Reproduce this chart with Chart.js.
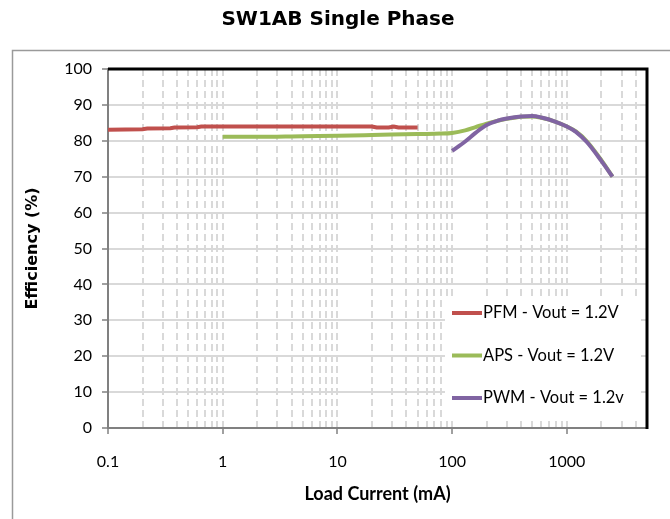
<!DOCTYPE html>
<html>
<head>
<meta charset="utf-8">
<script src="https://cdn.jsdelivr.net/npm/chart.js@4/dist/chart.umd.min.js"></script>
<style>
  html, body { margin: 0; padding: 0; background: #fff; }
  #wrap { width: 670px; height: 519px; }
</style>
</head>
<body>
<div id="wrap"><canvas id="c" width="670" height="519"></canvas></div>
<script>
const TITLE = 'SW1AB Single Phase';
const X_TITLE = 'Load Current (mA)';
const Y_TITLE = 'Efficiency (%)';

// PFM - Vout = 1.2V
const PFM_X = [0.1, 0.2, 0.22, 0.35, 0.38, 0.6, 0.65, 1, 5, 20, 22, 28, 31, 34, 50];
const PFM_Y = [83.1, 83.2, 83.4, 83.5, 83.7, 83.8, 84.0, 84.0, 84.0, 84.0, 83.7, 83.7, 84.0, 83.7, 83.7];

// APS - Vout = 1.2V
const APS_X = [1, 2, 5, 10, 20, 50, 80, 100, 130, 160, 200, 250, 300, 400, 500, 600, 800, 1000, 1200, 1500, 2000, 2500];
const APS_Y = [81.1, 81.1, 81.3, 81.4, 81.6, 81.9, 82.0, 82.2, 82.9, 83.8, 84.8, 85.6, 86.1, 86.7, 86.8, 86.4, 85.3, 84.0, 82.6, 79.8, 74.6, 70.0];

// PWM - Vout = 1.2v
const PWM_X = [100, 130, 160, 200, 250, 300, 400, 500, 600, 800, 1000, 1200, 1500, 2000, 2500];
const PWM_Y = [77.2, 79.8, 82.2, 84.4, 85.6, 86.2, 86.8, 86.9, 86.5, 85.3, 84.0, 82.5, 79.6, 74.4, 70.0];

const X_LABELS = [0.1, 1, 10, 100, 1000];
const X_GRID = X_LABELS.flatMap(d => [1, 2, 3, 4, 5, 6, 7, 8, 9].map(m => +(d * m).toPrecision(3)))
  .filter(v => v <= 5000);
const Y_TICKS = [0, 10, 20, 30, 40, 50, 60, 70, 80, 90, 100];

const pts = (xs, ys) => xs.map((x, k) => ({ x, y: ys[k] }));

const decor = {
  id: 'decor',
  beforeDraw(chart) {
    const ctx = chart.ctx;
    ctx.save();
    ctx.fillStyle = '#fff';
    ctx.fillRect(0, 0, chart.width, chart.height);
    // outer chart frame
    ctx.strokeStyle = '#9a9a9a';
    ctx.lineWidth = 1.5;
    ctx.strokeRect(12.5, 50.5, 700, 500);
    ctx.fillStyle = '#000';
    ctx.font = 'bold 20px "DejaVu Sans"';
    ctx.textAlign = 'center';
    ctx.textBaseline = 'middle';
    ctx.fillText(TITLE, 338, 20);
    ctx.restore();
  },
  afterDatasetsDraw(chart) {
    const ctx = chart.ctx;
    const a = chart.chartArea;
    ctx.save();
    // legend inside the plot
    ctx.fillStyle = '#fff';
    ctx.fillRect(445, 297, 196, 122);
    ctx.font = '16.5px Lato';
    ctx.textBaseline = 'middle';
    ctx.textAlign = 'left';
    chart.data.datasets.forEach((ds, k) => {
      const y = 313 + k * 42.5;
      ctx.strokeStyle = ds.borderColor;
      ctx.lineWidth = 4;
      ctx.beginPath();
      ctx.moveTo(452, y);
      ctx.lineTo(482, y);
      ctx.stroke();
      ctx.fillStyle = '#000';
      ctx.fillText(ds.label, 483, y);
    });
    // black top / right border of the plot area
    ctx.strokeStyle = '#000';
    ctx.lineWidth = 3;
    ctx.beginPath();
    ctx.moveTo(a.left, a.top);
    ctx.lineTo(a.right, a.top);
    ctx.lineTo(a.right, a.bottom + 1);
    ctx.stroke();
    ctx.restore();
  }
};

new Chart(document.getElementById('c'), {
  type: 'line',
  data: {
    datasets: [
      { label: 'PFM - Vout = 1.2V', data: pts(PFM_X, PFM_Y), borderColor: '#C0504D', order: 2, tension: 0 },
      { label: 'APS - Vout = 1.2V', data: pts(APS_X, APS_Y), borderColor: '#9BBB59', order: 1, cubicInterpolationMode: 'monotone' },
      { label: 'PWM - Vout = 1.2v', data: pts(PWM_X, PWM_Y), borderColor: '#8064A2', order: 0, cubicInterpolationMode: 'monotone' }
    ]
  },
  options: {
    responsive: false,
    animation: false,
    devicePixelRatio: 1,
    elements: {
      line: { borderWidth: 4, fill: false, borderCapStyle: 'butt' },
      point: { radius: 0, hoverRadius: 0 }
    },
    layout: { padding: { left: 14, right: 23, top: 69, bottom: 0 } },
    plugins: {
      legend: { display: false },
      title: { display: false },
      tooltip: { enabled: false }
    },
    scales: {
      x: {
        type: 'logarithmic',
        min: 0.1,
        max: 5000,
        afterBuildTicks: s => { s.ticks = X_GRID.map(v => ({ value: v })); },
        afterFit: s => { s.height = 91; },
        grid: {
          color: '#d9d9d9',
          lineWidth: 2,
          tickLength: 6,
          tickWidth: 1.5,
          tickBorderDash: [],
          tickColor: c => (c.tick && X_LABELS.includes(c.tick.value)) ? '#808080' : 'rgba(0,0,0,0)'
        },
        border: { color: '#808080', width: 2, dash: [7, 4] },
        ticks: {
          autoSkip: false,
          maxRotation: 0,
          padding: 18,
          color: '#000',
          font: { family: 'Lato', size: 16 },
          callback: v => X_LABELS.includes(v) ? String(v) : ''
        },
        title: {
          display: true,
          text: X_TITLE,
          color: '#000',
          font: { family: 'Lato', size: 18, weight: 'bold' },
          padding: { top: 0, bottom: 14 }
        }
      },
      y: {
        min: 0,
        max: 100,
        afterBuildTicks: s => { s.ticks = Y_TICKS.map(v => ({ value: v })); },
        afterFit: s => { s.width = 94; },
        grid: {
          color: c => (c.tick && (c.tick.value === 0 || c.tick.value === 100)) ? 'rgba(0,0,0,0)' : '#d9d9d9',
          lineWidth: 2,
          tickLength: 6,
          tickWidth: 1.5,
          tickColor: '#808080'
        },
        border: { color: '#808080', width: 2 },
        ticks: {
          padding: 10,
          color: '#000',
          font: { family: 'Lato', size: 16 }
        },
        title: {
          display: true,
          text: Y_TITLE,
          color: '#000',
          font: { family: 'DejaVu Sans', size: 16, weight: 'bold' },
          padding: { top: 9, bottom: 0 }
        }
      }
    }
  },
  plugins: [decor]
});
</script>
</body>
</html>
